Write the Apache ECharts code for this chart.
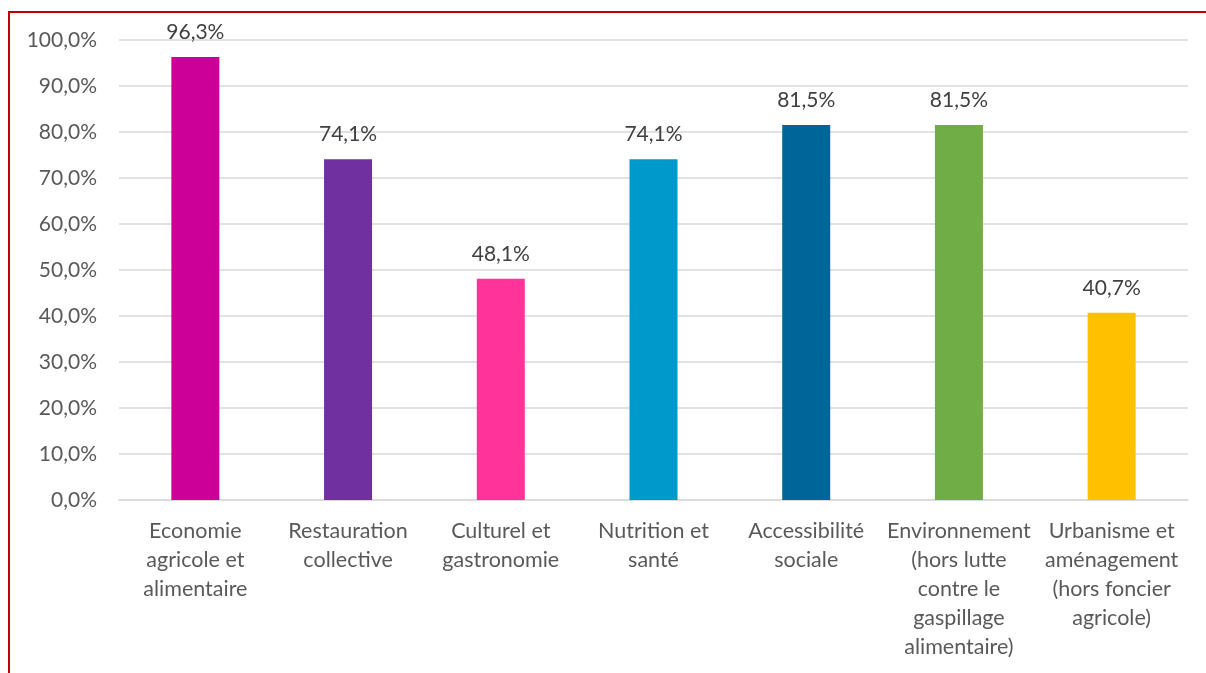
<!DOCTYPE html>
<html>
<head>
<meta charset="utf-8">
<script src="https://cdn.jsdelivr.net/npm/echarts@6/dist/echarts.min.js"></script>
<style>
	html, body { margin: 0; padding: 0; background: #fff; }
	#frame { position: absolute; left: 8px; top: 11px; width: 1300px; height: 700px; border-left: 2px solid #c00000; border-top: 2px solid #c00000; }
	#main { position: absolute; left: 0; top: 0; width: 1206px; height: 673px; }
</style>
</head>
<body>
<div id="frame"></div>
<div id="main"></div>
<script type="text/javascript">
	// catégories
	var categories = [
		'Economie\nagricole et\nalimentaire',
		'Restauration\ncollective',
		'Culturel et\ngastronomie',
		'Nutrition et\nsanté',
		'Accessibilité\nsociale',
		'Environnement\n(hors lutte\ncontre le\ngaspillage\nalimentaire)',
		'Urbanisme et\naménagement\n(hors foncier\nagricole)'
	];
	// valeurs en %
	var values = [96.3, 74.1, 48.1, 74.1, 81.5, 81.5, 40.7];
	var barColors = ['#cc0099', '#7030a0', '#ff3399', '#0099cc', '#006699', '#70ad47', '#ffc000'];

	var fmt = function(v) {
		return v.toFixed(1).replace('.', ',') + '%';
	};

	var chartDom = document.getElementById('main');
	var myChart = echarts.init(chartDom);
	var option;

	option = {
		animation: false,
		textStyle: { fontFamily: 'Lato' },
		grid: { left: 119, right: 18, top: 40, bottom: 173 },
		xAxis: {
			type: 'category',
			data: categories,
			axisLine: { lineStyle: { color: '#d9d9d9', width: 1.5 } },
			axisTick: { show: false },
			axisLabel: {
				interval: 0,
				color: '#595959',
				fontSize: 21.5,
				lineHeight: 29,
				margin: 17,
				fontFamily: 'Lato'
			}
		},
		yAxis: {
			type: 'value',
			min: 0,
			max: 100,
			interval: 10,
			axisLine: { show: false },
			axisTick: { show: false },
			splitLine: { lineStyle: { color: '#d9d9d9', width: 1.5 } },
			axisLabel: {
				color: '#595959',
				fontSize: 21,
				margin: 22,
				fontFamily: 'Lato',
				formatter: fmt
			}
		},
		series: [{
			type: 'bar',
			barWidth: 48,
			data: values.map(function(v, i) {
				return { value: v, itemStyle: { color: barColors[i] } };
			}),
			label: {
				show: true,
				position: 'top',
				distance: 14,
				color: '#404040',
				fontSize: 21,
				fontFamily: 'Lato',
				formatter: function(p) { return fmt(p.value); }
			}
		}]
	};

	option && myChart.setOption(option, true);
</script>
</body>
</html>
